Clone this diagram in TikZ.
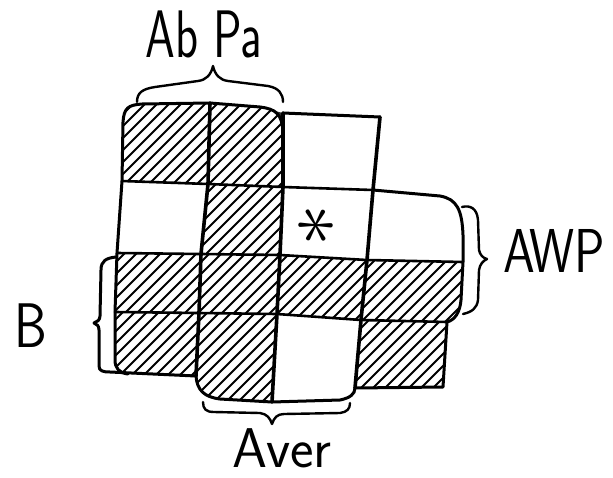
\documentclass[tikz,border=0pt]{standalone}
\usepackage{fontspec}
\usetikzlibrary{calc}
\tikzset{
  colline/.style={line width=3.6pt, line cap=round, line join=round},
  rowline/.style={line width=2.6pt, line cap=round, line join=round},
  edgeline/.style={line width=3pt, line cap=round, line join=round},
  bracestroke/.style={line width=2.4pt, line cap=round, line join=round},
  hatchline/.style={line width=2pt},
  lbl/.style={inner sep=0pt, font=\sffamily},
}
\newcommand\hatchin[2]{\begin{scope}\clip #2;\foreach \k in {-40,-28,...,230}{\draw[hatchline] ($(#1)+(\k-130,130)$) -- ++(260,-260);}\end{scope}}
\begin{document}
\begin{tikzpicture}[x=1pt,y=-1pt]
\useasboundingbox (0,0) rectangle (613,477);
% grid points
\coordinate (p00) at (124,105);
\coordinate (p10) at (210,103);
\coordinate (p20) at (283,113);
\coordinate (p30) at (380,117);
\coordinate (p01) at (122,181);
\coordinate (p11) at (208,184);
\coordinate (p21) at (283,187);
\coordinate (p31) at (373,190);
\coordinate (p02) at (117,253);
\coordinate (p12) at (201,254);
\coordinate (p22) at (280,255);
\coordinate (p32) at (367,260);
\coordinate (p42) at (463,262);
\coordinate (p03) at (115,312);
\coordinate (p13) at (199,313);
\coordinate (p23) at (277,314);
\coordinate (p33) at (361,320);
\coordinate (p43) at (447,322);
\coordinate (p14) at (196,376);
\coordinate (p24) at (272,402);
\coordinate (p34) at (355,388);
\coordinate (p44) at (443,387);
% hatching
\hatchin{p00}{(123,122) .. controls (124,108) and (128,105) .. (142,104) -- (p10) -- (p11) -- (p01) -- cycle}
\hatchin{p10}{(p10) -- (260,107) .. controls (276,109) and (282,114) .. (283,132) -- (p21) -- (p11) -- cycle}
\hatchin{p11}{(p11) -- (p21) -- (p22) -- (p12) -- cycle}
\hatchin{p02}{(p02) -- (p12) -- (p13) -- (p03) -- cycle}
\hatchin{p12}{(p12) -- (p22) -- (p23) -- (p13) -- cycle}
\hatchin{p22}{(p22) -- (p32) -- (p33) -- (p23) -- cycle}
\hatchin{p32}{(p32) -- (p42) -- (461,300) .. controls (460,312) and (455,320) .. (p43) -- (p33) -- cycle}
\hatchin{p03}{(p03) -- (p13) -- (p14) -- (128,374) .. controls (118,372) and (115,368) .. (115,360) -- cycle}
\hatchin{p13}{(p13) -- (p23) -- (p24) -- (220,399) .. controls (203,396) and (197,388) .. (p14) -- cycle}
\hatchin{p33}{(p33) -- (p43) -- (p44) -- (p34) -- cycle}
% dark wedge at the rounded corner
\fill[black!80] (262,108) .. controls (276,109) and (282,114) .. (283,132) -- (p20) -- cycle;
% row lines
\draw[rowline] (p01) -- (p11) -- (p21) -- (p31);
\draw[rowline] (p02) -- (p12) -- (p22) -- (p32) -- (p42);
\draw[rowline] (p03) -- (p13) -- (p23) -- (p33) -- (p43);
% outline
\draw[edgeline] (283,132) .. controls (282,114) and (276,109) .. (260,107) -- (p10) -- (142,104)
  .. controls (128,105) and (124,108) .. (123,122) -- (p01) -- (p02) -- (p03) -- (115,360)
  .. controls (115,368) and (119,373) .. (128,374);
\draw[edgeline] (p20) -- (p30);
\draw[edgeline] (p31) -- (440,196) .. controls (457,199) and (462,210) .. (463,235) -- (p42)
  -- (461,300) .. controls (460,312) and (455,320) .. (p43) -- (p44) -- (p34);
\draw[edgeline] (p14) .. controls (197,390) and (204,397) .. (220,399) -- (p24) -- (340,400)
  .. controls (350,398) and (355,394) .. (p34);
% column lines
\draw[colline] (p10) -- (p11) -- (p12) -- (p13) -- (p14);
\draw[colline] (p20) -- (p21) -- (p22) -- (p23) -- (p24);
\draw[colline] (p30) -- (p31) -- (p32) -- (p33) -- (p34);
% braces
\draw[bracestroke] (137,102) .. controls (137,93) and (142,89) .. (155,87) -- (198,81)
  .. controls (206,80) and (211,75) .. (213,66) .. controls (215,75) and (220,80) .. (228,81)
  -- (268,86) .. controls (279,88) and (283,94) .. (283,102);
\draw[bracestroke] (203,402) .. controls (203,409) and (206,412) .. (214,412) -- (260,413)
  .. controls (267,414) and (270,418) .. (272,424) .. controls (274,418) and (277,414) .. (284,414)
  -- (340,413) .. controls (347,412) and (350,409) .. (350,403);
\draw[edgeline] (116,257) .. controls (106,258) and (101,261) .. (101,270) -- (100,316)
  .. controls (100,320) and (97,322) .. (94,323) .. controls (97,324) and (99,326) .. (99,330)
  -- (99,366) .. controls (99,371) and (103,372) .. (110,372) -- (p14);
\draw[bracestroke] (462,207) .. controls (470,205) and (477,208) .. (478,220) -- (479,250)
  .. controls (480,255) and (483,258) .. (487,259) .. controls (483,261) and (480,264) .. (479,270)
  -- (478,300) .. controls (477,308) and (472,312) .. (463,314);
% labels
\node[lbl, anchor=base, font=\sffamily\fontsize{56}{56}\selectfont] (abpa) at (204,57) {\scalebox{0.85}[1.2]{Ab Pa}};
\node[lbl, anchor=base, font=\sffamily\fontsize{56}{56}\selectfont] (aver) at (282,467) {Aver};
\node[lbl, anchor=base west, font=\sffamily\fontsize{62}{62}\selectfont] (awp) at (503,272) {\scalebox{0.82}[1]{AWP}};
\node[lbl, anchor=base, font=\sffamily\fontsize{63}{63}\selectfont] (b) at (31,347) {\scalebox{0.83}[1]{B}};
\node[inner sep=0pt, rotate=30] (star) at (317,227) {\scalebox{3.3}{\Huge$\ast$}};
\end{tikzpicture}
\end{document}
